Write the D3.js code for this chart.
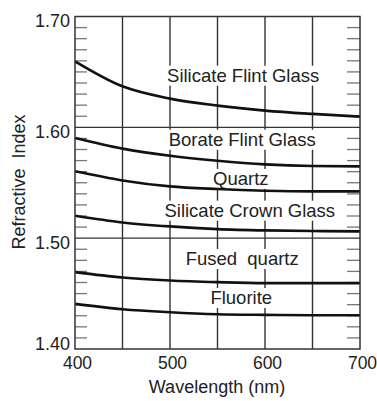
<!DOCTYPE html>
<html><head><meta charset="utf-8">
<script src="https://cdn.jsdelivr.net/npm/d3@7"></script>
<style>
html,body{margin:0;padding:0;background:#fff;}
svg{display:block;font-family:"Liberation Sans",Arial,Helvetica,sans-serif;}
</style></head>
<body><svg id="c" width="377" height="401"></svg>
<script>
const wavelengths = [400, 450, 500, 550, 600, 650, 700];
const silicateFlint = [1.6596, 1.6370, 1.6259, 1.6196, 1.6151, 1.6121, 1.6097];
const borateFlint   = [1.5904, 1.5808, 1.5744, 1.5699, 1.5666, 1.5651, 1.5648];
const quartz        = [1.5603, 1.5521, 1.5467, 1.5443, 1.5428, 1.5422, 1.5422];
const silicateCrown = [1.5202, 1.5142, 1.5106, 1.5082, 1.5070, 1.5064, 1.5061];
const fusedQuartz   = [1.4694, 1.4645, 1.4618, 1.4603, 1.4594, 1.4594, 1.4594];
const fluorite      = [1.4407, 1.4359, 1.4332, 1.4314, 1.4308, 1.4305, 1.4305];
const seriesNames = ["Silicate Flint Glass", "Borate Flint Glass", "Quartz", "Silicate Crown Glass", "Fused  quartz", "Fluorite"];
const seriesValues = [silicateFlint, borateFlint, quartz, silicateCrown, fusedQuartz, fluorite];
const labelPos = [[577, 1.6412], [576, 1.5834], [574.5, 1.5480], [584, 1.5194], [576, 1.4758], [575, 1.4406]];
const xTicks = [400, 500, 600, 700];
const xGrid = [450, 500, 550, 600, 650];
const yTicks = [1.40, 1.50, 1.60, 1.70];
const yGrid = [1.50, 1.60];
const yMinor = d3.range(141, 170).map(d => d / 100);

const svg = d3.select("#c");
const x = d3.scaleLinear().domain([400, 700]).range([75, 360]);
const y = d3.scaleLinear().domain([1.40, 1.70]).range([349, 16.5]);
const gridCol = "#333";

// minor ticks (left and right, inward)
const mt = svg.append("g").attr("stroke", "#777").attr("stroke-width", 1.3);
yMinor.forEach(v => {
  if (yGrid.some(g => Math.abs(g - v) < 1e-6)) return;
  mt.append("line").attr("x1", x.range()[0]).attr("x2", x.range()[0] + 12).attr("y1", y(v)).attr("y2", y(v));
  mt.append("line").attr("x1", x.range()[1] - 13).attr("x2", x.range()[1]).attr("y1", y(v)).attr("y2", y(v));
});

// gridlines
const g = svg.append("g").attr("stroke", gridCol).attr("stroke-width", 1.4);
xGrid.forEach(v => g.append("line").attr("x1", x(v)).attr("x2", x(v)).attr("y1", y.range()[0]).attr("y2", y.range()[1]));
yGrid.forEach(v => g.append("line").attr("x1", x.range()[0]).attr("x2", x.range()[1]).attr("y1", y(v)).attr("y2", y(v)));

// labels with white backgrounds
const lg = svg.append("g");
seriesNames.forEach((name, i) => {
  const t = lg.append("text")
    .attr("x", x(labelPos[i][0])).attr("y", y(labelPos[i][1]))
    .attr("text-anchor", "middle").attr("font-size", 18.5).attr("fill", "#222")
    .style("white-space", "pre").text(name);
  const b = t.node().getBBox();
  lg.insert("rect", "text").attr("x", b.x - 2).attr("y", b.y + 1).attr("width", b.width + 4).attr("height", b.height - 1).attr("fill", "#fff");
});

// curves
const line = d3.line().x((d, i) => x(wavelengths[i])).y(d => y(d)).curve(d3.curveMonotoneX);
svg.append("g").selectAll("path").data(seriesValues).join("path")
  .attr("d", line).attr("fill", "none").attr("stroke", "#111").attr("stroke-width", 2.6);

// border
svg.append("rect").attr("x", x.range()[0]).attr("y", y.range()[1])
  .attr("width", x.range()[1] - x.range()[0]).attr("height", y.range()[0] - y.range()[1])
  .attr("fill", "none").attr("stroke", gridCol).attr("stroke-width", 1.5);

// axes (labels only)
const xAxis = d3.axisBottom(x).tickValues(xTicks).tickSize(0).tickPadding(0).tickFormat(d3.format("d"));
const xa = svg.append("g").attr("transform", `translate(2,${y.range()[0]})`).call(xAxis);
xa.select(".domain").remove();
xa.selectAll("text").attr("font-size", 17.5).attr("fill", "#222").attr("dy", null).attr("y", 20);

const yAxis = d3.axisLeft(y).tickValues(yTicks).tickSize(0).tickPadding(5).tickFormat(d3.format(".2f"));
const ya = svg.append("g").attr("transform", `translate(${x.range()[0]},0)`).call(yAxis);
ya.select(".domain").remove();
ya.selectAll("text").attr("font-size", 18).attr("fill", "#222")
  .attr("dy", d => d === 1.40 ? "0.0em" : "0.57em");

svg.append("text").attr("x", 217).attr("y", 393).attr("text-anchor", "middle")
  .attr("font-size", 18).attr("fill", "#222").text("Wavelength (nm)");
svg.append("text").attr("transform", `translate(25,182) rotate(-90)`).attr("text-anchor", "middle")
  .attr("font-size", 18).attr("fill", "#222").style("white-space", "pre").text("Refractive  Index");
</script></body></html>
